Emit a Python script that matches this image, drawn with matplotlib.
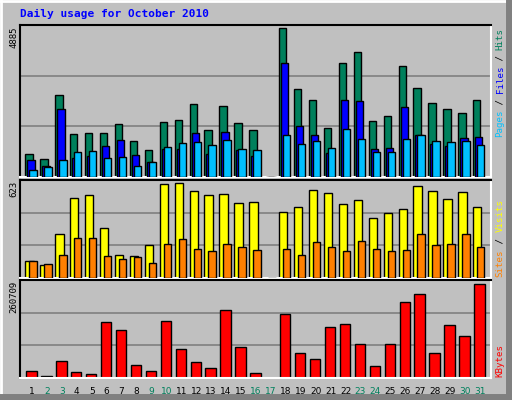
import matplotlib
matplotlib.use("Agg")
import matplotlib.pyplot as plt
from matplotlib.lines import Line2D

days = list(range(1, 32))
hits = [728,565,2650,1379,1412,1412,1705,1151,858,1770,1835,2357,1510,2292,1738,1510,0,
        4800,2813,2487,1575,3660,4018,1803,1966,3562,2846,2389,2194,2063,2487]
files = [532,348,2194,597,673,988,1184,695,467,901,890,1412,728,1444,869,673,0,
         3660,1640,1347,760,2487,2454,890,923,2259,1347,1053,988,1249,1281]
pages = [239,315,532,793,825,597,630,348,467,956,1086,1119,1021,1184,890,858,0,
         1347,1053,1151,923,1542,1216,793,793,1216,1347,1151,1119,1151,1021]
visits = [111,85,281,510,530,320,144,137,209,595,601,556,530,536,477,484,0,
          419,451,562,543,471,497,379,412,438,588,556,503,549,451]
sites = [105,92,144,255,255,137,118,131,98,216,249,183,170,216,196,177,0,
         183,144,229,196,170,236,183,170,177,281,209,216,281,196]
kbytes = [19300,5500,44000,16500,11000,148700,126700,35800,19300,151500,77100,41300,27500,
          181800,82600,13800,0,170700,66100,49600,135000,143200,90900,33000,90900,201000,
          223000,66100,140500,112900,250600]
weekend = [2,3,9,10,16,17,23,24,30,31]
max_hits, max_visits, max_kb = 4885, 623, 260709

W, H = 512, 400
fig = plt.figure(figsize=(W/100, H/100), dpi=100, facecolor="#C0C0C0")
mono = "DejaVu Sans Mono"
BG = "#C0C0C0"

def ax_at(x0, y0, x1, y1):
    return fig.add_axes([x0/W, 1-y1/H, (x1-x0)/W, (y1-y0)/H])

xl = (0.129, 31.68)
def style(ax, ymax):
    ax.set_facecolor(BG)
    ax.set_xlim(*xl)
    ax.set_ylim(0, ymax*1.0)
    ax.set_xticks([]); ax.set_yticks([])
    for y in (ymax/3, 2*ymax/3):
        ax.axhline(y, color="#808080", lw=1.2, zorder=0)
    ax.spines["top"].set_color("black"); ax.spines["left"].set_color("black")
    ax.spines["bottom"].set_color("white"); ax.spines["right"].set_color("white")
    for s in ax.spines.values(): s.set_linewidth(1.5)

s = 1/14.93
a1 = ax_at(20, 25, 491, 177); style(a1, max_hits)
bw = 7.3*s
a1.bar([d-4*s for d in days], hits, bw, color="#00805C", edgecolor="black", lw=1, zorder=2)
a1.bar([d-2*s for d in days], files, bw, color="#0000FF", edgecolor="black", lw=1, zorder=3)
a1.bar([d for d in days], pages, bw, color="#00C0FF", edgecolor="black", lw=1, zorder=4)

a2 = ax_at(20, 180, 491, 278); style(a2, max_visits)
a2.bar([d-3.5*s for d in days], visits, 8.3*s, color="#FFFF00", edgecolor="black", lw=1, zorder=2)
a2.bar([d for d in days], sites, 7.3*s, color="#FF8000", edgecolor="black", lw=1, zorder=3)

a3 = ax_at(20, 280, 491, 378); style(a3, max_kb)
a3.bar([d-1.5*s for d in days], kbytes, 10.4*s, color="#FF0000", edgecolor="black", lw=1, zorder=2)

for d in days:
    a3.text(d-1.0*s, -0.09, str(d), transform=a3.get_xaxis_transform(), ha="center", va="top",
            fontsize=6.5, color="#00805C" if d in weekend else "black")

fig.text(20/W, 1-14/H, "Daily usage for October 2010", fontsize=8, fontweight="bold",
         color="#0000FF", family=mono, va="center", ha="left")
for txt, py in (("4885", 26), ("623", 181), ("260709", 281)):
    fig.text(14/W, 1-py/H, txt, rotation=90, ha="center", va="top", fontsize=6.5, family=mono)

def vlabel(parts, y_bottom, x=500, cw=5.5):
    pos = 0
    for t, c in parts:
        fig.text(x/W, 1-(y_bottom - pos*cw)/H, t, rotation=90, ha="center", va="bottom",
                 fontsize=6.6, family=mono, color=c)
        pos += len(t)

vlabel([("Pages", "#00C0FF"), (" / ", "black"), ("Files", "#0000FF"), (" / ", "black"),
        ("Hits", "#00805C")], 137, cw=5.45)
vlabel([("Sites", "#FF8000"), (" / ", "black"), ("Visits", "#FFFF00")], 277, cw=5.6)
vlabel([("KBytes", "#FF0000")], 377, cw=6.1)

# bevel border
for (x0, y0, x1, y1, c) in [(0, 0.5, W, 0.5, "white"), (0.5, 0, 0.5, H, "white"),
                             (0, H-3, W, H-3, "#808080"), (W-3, 0, W-3, H, "#808080")]:
    fig.add_artist(Line2D([x0/W, x1/W], [1-y0/H, 1-y1/H], color=c, lw=5 if c != "white" else 2,
                          transform=fig.transFigure))

fig.savefig("out.png", dpi=100, facecolor=fig.get_facecolor())
